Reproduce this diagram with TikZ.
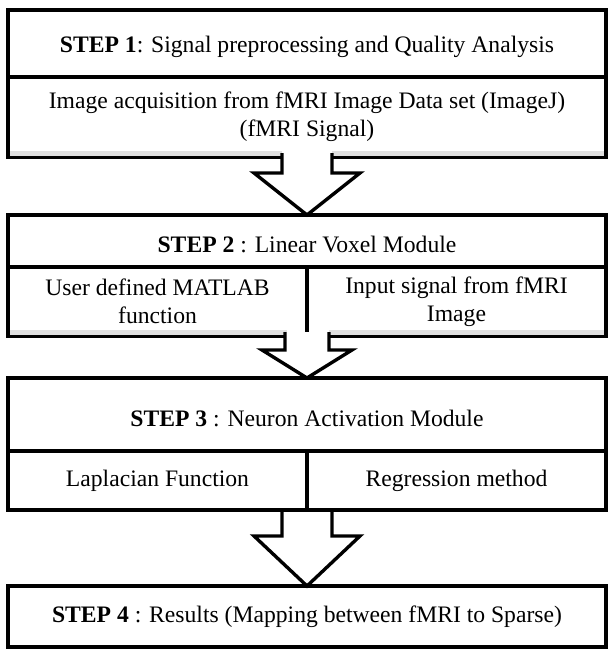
\documentclass[tikz,border=0pt]{standalone}
\usepackage{fontspec}
\setmainfont{Liberation Serif}
\usetikzlibrary{calc, backgrounds}

\tikzset{
  cell/.style={draw, line width=2.4pt, inner sep=0pt, outer sep=0pt,
               align=center, font=\fontsize{16.8}{20}\selectfont},
  bigarrow/.style={draw, fill=white, line width=2.4pt, line join=miter},
  band/.style={fill=black!12}
}

\begin{document}
\begin{tikzpicture}[x=0.025cm, y=-0.025cm]
    \useasboundingbox (0,0) rectangle (608,655);

    % Etape 1 : pretraitement
    \node[cell, minimum width=14.95cm, minimum height=1.675cm] (s1title) at (307,43.5)
      {\raisebox{-0.09cm}[\height][\depth]{\textbf{STEP 1}: Signal preprocessing and Quality Analysis}};
    \node[cell, minimum width=14.95cm, minimum height=2cm] (s1body) at (307,117)
      {Image acquisition from fMRI Image Data set (ImageJ)\\(fMRI Signal)};

    % Etape 2 : module voxel lineaire
    \node[cell, minimum width=14.95cm, minimum height=1.3cm] (s2title) at (307,241)
      {\raisebox{-0.075cm}[\height][\depth]{\textbf{STEP 2} : Linear Voxel Module}};
    \node[cell, minimum width=7.475cm, minimum height=1.725cm] (s2left) at (157.5,301.5)
      {User defined MATLAB\\function};
    \node[cell, minimum width=7.475cm, minimum height=1.725cm] (s2right) at (456.5,301.5)
      {Input signal from fMRI\\Image};

    % Etape 3 : activation des neurones
    \node[cell, minimum width=14.95cm, minimum height=1.825cm] (s3title) at (307,414.5)
      {\raisebox{-0.09cm}[\height][\depth]{\textbf{STEP 3} : Neuron Activation Module}};
    \node[cell, minimum width=7.475cm, minimum height=1.475cm] (s3left) at (157.5,480.5)
      {Laplacian Function};
    \node[cell, minimum width=7.475cm, minimum height=1.475cm] (s3right) at (456.5,480.5)
      {Regression method};

    % Etape 4 : resultats
    \node[cell, minimum width=14.95cm, minimum height=1.525cm] (s4) at (307,616.5)
      {\textbf{STEP 4} : Results (Mapping between fMRI to Sparse)};

    % Bandes grises au bas des cellules
    \fill[band] ($(s1body.south west)+(2,-1)$) rectangle ($(s1body.south)+(-25,-6)$);
    \fill[band] ($(s1body.south)+(25,-1)$) rectangle ($(s1body.south east)+(-2,-6)$);
    \fill[band] ($(s2left.south west)+(2,-1)$) rectangle ($(s2left.south east)+(-20,-6)$);
    \fill[band] ($(s2right.south west)+(22,-1)$) rectangle ($(s2right.south east)+(-2,-6)$);

    % Fleches entre les etapes
    \draw[bigarrow] ($(s1body.south)+(-25,-4)$) |- ($(s2title.north)+(-53,-42)$)
      -- (s2title.north) -- ($(s2title.north)+(53,-42)$) -| ($(s1body.south)+(25,-4)$);
    \draw[bigarrow] ($(s2left.south east)+(-22,-4)$) |- ($(s3title.north)+(-45,-28)$)
      -- (s3title.north) -- ($(s3title.north)+(45,-28)$) -| ($(s2right.south west)+(22,-4)$);
    \begin{scope}[on background layer]
      \draw[bigarrow] ($(s3left.south east)+(-25,0)$) |- ($(s4.north)+(-53,-50)$)
        -- (s4.north) -- ($(s4.north)+(53,-50)$) -| ($(s3right.south west)+(25,0)$);
    \end{scope}

\end{tikzpicture}
\end{document}
